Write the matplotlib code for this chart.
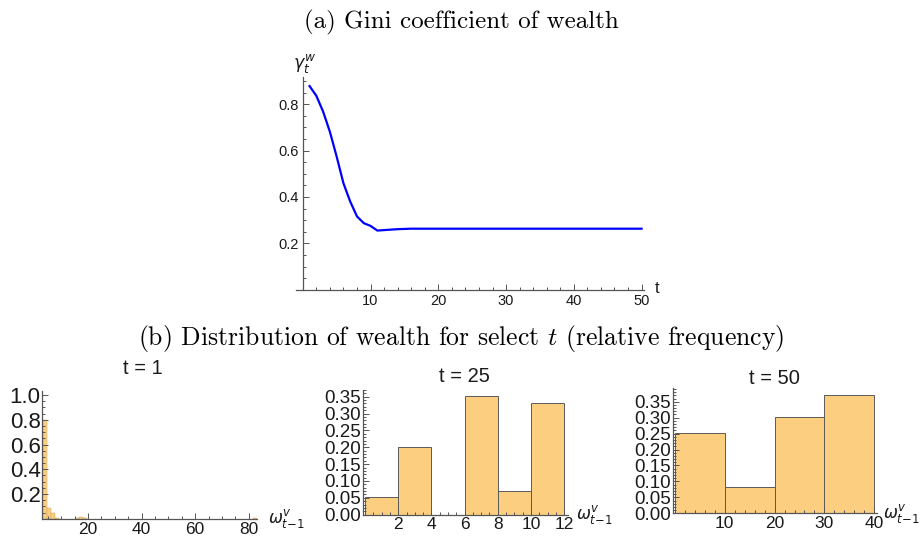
"""Gini coefficient of wealth over time and wealth histograms for a few t."""

import matplotlib
matplotlib.use("Agg")
import matplotlib.pyplot as plt
from matplotlib.ticker import MultipleLocator, FixedLocator, FormatStrFormatter

# --- data ---
t_vals = list(range(1, 51))
gini = [0.878, 0.836, 0.768, 0.681, 0.574, 0.459, 0.380, 0.316, 0.287, 0.275,
        0.255, 0.257, 0.259, 0.261, 0.262] + [0.263] * 35

# histograms: left bin edges, bin widths, relative frequencies
t1_left = [3.0, 4.5, 6.0, 7.5, 15.0, 16.5, 18.0, 81.5]
t1_width = [1.5] * 8
t1_freq = [0.80, 0.09, 0.05, 0.01, 0.005, 0.012, 0.01, 0.004]

t25_left = [0, 2, 4, 6, 8, 10]
t25_width = [2] * 6
t25_freq = [0.052, 0.200, 0.0, 0.352, 0.071, 0.330]

t50_left = [0, 10, 20, 30]
t50_width = [10] * 4
t50_freq = [0.253, 0.081, 0.302, 0.372]

BAR = "#fccf80"
EDGE = "#5a5a5a"
AXC = "#555555"
TXT = "#1a1a1a"
SANS = ["Liberation Sans", "DejaVu Sans"]

plt.rcParams["font.family"] = SANS

fig = plt.figure(figsize=(9.22, 5.42), dpi=100)


def mma_axes(ax, fs):
    # Mathematica-like axes: left/bottom only, ticks pointing in
    for s in ("top", "right"):
        ax.spines[s].set_visible(False)
    for s in ("left", "bottom"):
        ax.spines[s].set_color(AXC)
        ax.spines[s].set_linewidth(0.9)
    ax.tick_params(which="both", direction="in", colors=AXC, labelcolor=TXT,
                   labelsize=fs, width=0.7, pad=3)
    ax.tick_params(which="major", length=4)
    ax.tick_params(which="minor", length=2)
    ax.patch.set_alpha(0)


# (a) Gini coefficient
ax = fig.add_axes([296 / 922, 1 - 289.7 / 542, 348.3 / 922, 212.7 / 542])
ax.plot(t_vals, gini, color="#0000ff", lw=1.6, solid_joinstyle="round")
ax.set_xlim(-1, 50.4)
ax.set_ylim(0, 0.917)
ax.spines["left"].set_position(("data", 0))
mma_axes(ax, 10.5)
ax.xaxis.set_major_locator(FixedLocator([10, 20, 30, 40, 50]))
ax.xaxis.set_minor_locator(MultipleLocator(2))
ax.yaxis.set_major_locator(FixedLocator([0.2, 0.4, 0.6, 0.8]))
ax.yaxis.set_minor_locator(MultipleLocator(0.05))
ax.text(0.2, 0.925, r"$\gamma_t^w$", fontsize=12.5, ha="center", va="bottom",
        color=TXT)
ax.text(52, 0.005, "t", fontsize=12, ha="left", va="center", color=TXT)

fig.text(0.5, 1 - 22 / 542, "(a) Gini coefficient of wealth", ha="center",
         va="center", fontsize=18, family="cmr10")
fig.text(0.5, 1 - 338 / 542,
         r"(b) Distribution of wealth for select $t$ (relative frequency)",
         ha="center", va="center", fontsize=18.5, family="cmr10",
         math_fontfamily="cm")

# (b) histograms
panels = [
    ([42 / 922, 1 - 518.75 / 542, 214.7 / 922, 128 / 542], t1_left, t1_width,
     t1_freq, (2.8, 83), (0, 1.035), [20, 40, 60, 80], 5,
     [0.2, 0.4, 0.6, 0.8, 1.0], 0.05, "%.1f", "t = 1", 143, 368, 16, 268, "left"),
    ([362.7 / 922, 1 - 514.7 / 542, 205.6 / 922, 124.7 / 542], t25_left,
     t25_width, t25_freq, (-0.14, 12.25), (0, 0.37), [2, 4, 6, 8, 10, 12], 0.5,
     [0, 0.05, 0.10, 0.15, 0.20, 0.25, 0.30, 0.35], 0.01, "%.2f", "t = 25",
     464, 376, 13.5, 576, "left"),
    ([672.7 / 922, 1 - 513.3 / 542, 204 / 922, 125 / 542], t50_left, t50_width,
     t50_freq, (-0.46, 40.5), (0, 0.392), [10, 20, 30, 40], 2,
     [0, 0.05, 0.10, 0.15, 0.20, 0.25, 0.30, 0.35], 0.01, "%.2f", "t = 50",
     774, 378, 13.5, 920, "right"),
]

for (rect, left, width, freq, xl, yl, xt, xm, yt, ym, fmt, title, ttl_x,
     ttl_y, yfs, lab_x, lab_ha) in panels:
    a = fig.add_axes(rect)
    thin = width[0] < 2
    a.bar(left, freq, width=width, align="edge", color=BAR,
          edgecolor="#c8a060" if thin else EDGE, linewidth=0.3 if thin else 0.7)
    a.set_xlim(*xl)
    a.set_ylim(*yl)
    mma_axes(a, yfs)
    a.tick_params(axis="x", labelsize=12.5, pad=2)
    a.tick_params(axis="y", pad=1)
    a.xaxis.set_major_locator(FixedLocator(xt))
    a.xaxis.set_minor_locator(MultipleLocator(xm))
    a.yaxis.set_major_locator(FixedLocator(yt))
    a.yaxis.set_minor_locator(MultipleLocator(ym))
    a.yaxis.set_major_formatter(FormatStrFormatter(fmt))
    fig.text(ttl_x / 922, 1 - ttl_y / 542, title, ha="center", va="center",
             fontsize=14.5, color=TXT)
    fig.text(lab_x / 922, rect[1], r"$\omega_{t\!-\!1}^v$", fontsize=12,
             ha=lab_ha, va="center", color=TXT)

fig.savefig("out.png", dpi=100)
